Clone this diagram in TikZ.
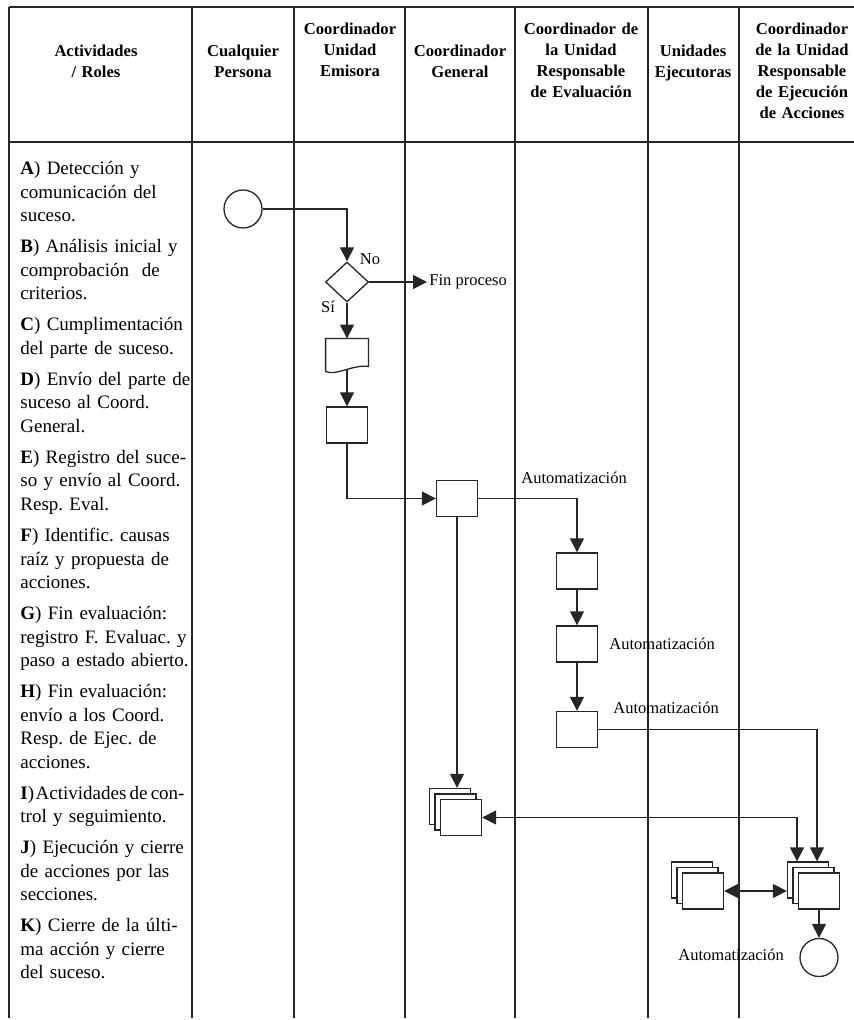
\documentclass[tikz,border=0pt]{standalone}
\usepackage{fontspec}
\setmainfont{Liberation Serif}
\usetikzlibrary{shapes.geometric, arrows.meta, shadows}
\frenchspacing

\begin{document}
\begin{tikzpicture}[x=0.5pt, y=-0.5pt,
    lane/.style={draw=black!85, line width=0.65pt},
    head/.style={font=\bfseries\fontsize{8.3}{10.5}\selectfont, text width=60pt, align=center, anchor=base, inner sep=0pt},
    activity/.style={font=\fontsize{9.5}{11.75}\selectfont, text width=90pt, align=left, anchor=base west, inner sep=0pt},
    lbl/.style={font=\fontsize{8.25}{10}\selectfont, inner sep=1pt},
    task/.style={draw=black!85, line width=0.65pt, fill=white, minimum width=20.5pt, minimum height=18pt, inner sep=0pt},
    tasks/.style={task,
        copy shadow={shadow xshift=-5.5pt, shadow yshift=5.5pt, fill=white, draw=black!85, line width=0.65pt},
        copy shadow={shadow xshift=-2.75pt, shadow yshift=2.75pt, fill=white, draw=black!85, line width=0.65pt}},
    event/.style={circle, draw=black!85, line width=0.65pt, minimum size=19pt, inner sep=0pt},
    decision/.style={diamond, draw=black!85, line width=0.65pt, minimum width=21.5pt, minimum height=20pt, inner sep=0pt},
    flow/.style={draw=black!85, line width=0.65pt, -{Triangle[length=7pt, width=7pt]}},
    both/.style={flow, {Triangle[length=7pt, width=7pt]}-{Triangle[length=7pt, width=7pt]}}
]
    \useasboundingbox (0,0) rectangle (854,1020);

    % Lanes
    \draw[lane] (9,7) -- (854,7);
    \draw[lane] (9,142) -- (854,142);
    \foreach \x in {9,192,294,405,515,648,739}
        \draw[lane] (\x,7) -- (\x,1018);

    % Roles
    \node[head] (hAct) at (96,57) {Actividades\\/ Roles};
    \node[head] (hAny) at (243,57) {Cualquier\\Persona};
    \node[head] (hEmi) at (350,35) {Coordinador\\Unidad\\Emisora};
    \node[head] (hGen) at (460,57) {Coordinador\\General};
    \node[head] (hEva) at (581,35) {Coordinador de\\la Unidad\\Responsable\\de Evaluación};
    \node[head] (hEje) at (693,57) {Unidades\\Ejecutoras};
    \node[head] (hAcc) at (802,35) {Coordinador\\de la Unidad\\Responsable\\de Ejecución\\de Acciones};

    % Activities
    \node[activity] (A) at (20,175) {\textbf{A}) Detección y\\comunicación del\\suceso.};
    \node[activity] (B) at (20,253) {\textbf{B}) Análisis inicial y\\comprobación\ \ de\\criterios.};
    \node[activity] (C) at (20,331) {\textbf{C}) Cumplimentación\\del parte de suceso.};
    \node[activity] (D) at (20,385.5) {\textbf{D}) Envío del parte de\\suceso al Coord.\\General.};
    \node[activity] (E) at (20,463.5) {\textbf{E}) Registro del suce-\\so y envío al Coord.\\Resp. Eval.};
    \node[activity] (F) at (20,541.5) {\textbf{F}) Identific. causas\\raíz y propuesta de\\acciones.};
    \node[activity] (G) at (20,619.5) {\textbf{G}) Fin evaluación:\\registro F. Evaluac. y\\paso a estado abierto.};
    \node[activity] (H) at (20,697.5) {\textbf{H}) Fin evaluación:\\envío a los Coord.\\Resp. de Ejec. de\\acciones.};
    \node[activity] (I) at (20,799) {{\spaceskip=0.17em\textbf{I})\hspace{0.08em}Actividades de con-}\\trol y seguimiento.};
    \node[activity] (J) at (20,853.5) {\textbf{J}) Ejecución y cierre\\de acciones por las\\secciones.};
    \node[activity] (K) at (20,931.5) {\textbf{K}) Cierre de la últi-\\ma acción y cierre\\del suceso.};

    % Unidad emisora
    \node[event] (start) at (243,209) {};
    \node[decision] (dec) at (347,282) {};
    \node[lbl] (no) at (370,259) {No};
    \node[lbl] (si) at (328,307) {Sí};
    \node[lbl, anchor=west] (fin) at (427,282) {Fin proceso};
    \node[minimum width=21pt, minimum height=15pt, inner sep=0pt] (doc) at (347,354) {};
    \draw[lane, fill=white] (doc.north west) -- (doc.north east) -- ([shift={(0,-3)}]doc.south east)
        .. controls ([shift={(-16,-5)}]doc.south east) and ([shift={(10,7)}]doc.south west) .. ([shift={(0,2)}]doc.south west) -- cycle;
    \node[task] (b1) at (347,425) {};

    % General y evaluacion
    \node[task] (b2) at (457,498.5) {};
    \node[task] (b3) at (577,571) {};
    \node[task] (b4) at (577,644) {};
    \node[task] (b5) at (577,729.5) {};
    \node[lbl, anchor=west] (auto1) at (519,478) {Automatización};
    \node[lbl, anchor=west] (auto2) at (607,644) {Automatización};
    \node[lbl, anchor=west] (auto3) at (611,708) {Automatización};

    % Seguimiento y ejecucion
    \node[tasks] (cg) at (461,817.5) {};
    \node[tasks] (ue) at (703,891) {};
    \node[tasks] (jr) at (819,891) {};
    \node[event] (end) at (819,957.5) {};
    \node[lbl, anchor=west] (auto4) at (676,955) {Automatización};
    \coordinate (cg top) at ([yshift=5.5pt]cg.north);

    % Connectors
    \draw[flow] (start) -| (dec);
    \draw[flow] (dec) -- (fin);
    \draw[flow] (dec) -- (doc);
    \draw[flow] (doc) -- (b1);
    \draw[flow] (b1) |- (b2);
    \draw[flow] (b2) -| (b3);
    \draw[flow] (b3) -- (b4);
    \draw[flow] (b4) -- (b5);
    \draw[flow] (b5) -| ([xshift=-1pt, yshift=5.5pt]jr.north);
    \draw[flow] (b2) -- (b2 |- cg top);
    \draw[both] (cg) -| ([xshift=-11pt, yshift=5.5pt]jr.north);
    \draw[both] (ue) -- ([xshift=-5.5pt]jr.west);
    \draw[flow] (jr) -- (end);

\end{tikzpicture}
\end{document}
